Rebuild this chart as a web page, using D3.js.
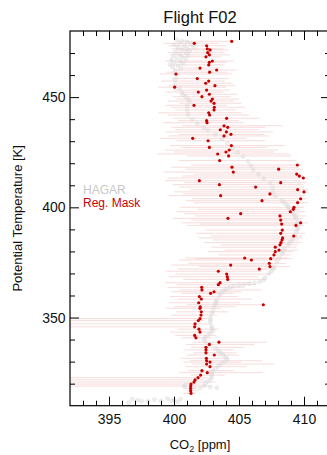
<!DOCTYPE html>
<html>
<head>
<meta charset="utf-8">
<script src="https://cdn.jsdelivr.net/npm/d3@7"></script>
<style>
  body { margin: 0; background: #fff; }
  svg { display: block; font-family: "Liberation Sans", Arial, sans-serif; }
</style>
</head>
<body>
<svg id="chart" width="327" height="455"></svg>
<script>
// Reg. Mask samples: potential temperature [K], CO2 [ppm], and range low/high
const maskTheta = [475.3,474.4,473.3,471.9,471.4,470.2,469.2,468.3,466.4,465.8,464.6,463.2,462.3,461.3,460.5,458.4,457.3,456.3,455.2,454.5,453.2,452.3,451.3,450.2,449.1,448.2,447.2,446.3,445.4,444.2,442.9,441.9,440.4,439.3,438.4,437.0,436.3,435.2,434.2,433.1,432.4,431.3,430.2,428.0,427.2,426.0,425.1,424.2,423.3,421.2,419.2,418.2,417.3,416.0,415.1,414.2,413.3,412.1,411.2,410.3,409.2,408.0,407.0,406.1,405.3,403.9,403.0,402.1,400.0,399.1,398.0,397.1,396.1,395.0,394.2,393.0,392.4,391.8,389.7,388.2,387.0,386.1,385.2,384.0,383.0,381.9,380.6,379.9,378.4,377.0,376.7,376.1,374.6,373.8,373.1,372.0,371.0,369.7,368.5,367.3,365.8,364.9,363.7,362.5,361.7,361.0,359.5,358.4,356.7,355.8,354.9,354.2,352.6,351.1,349.5,348.6,347.1,345.8,344.7,343.4,341.9,340.8,338.8,337.8,336.5,335.3,334.0,333.0,331.5,330.4,329.8,328.9,327.7,325.9,325.0,323.9,322.7,321.7,320.7,319.8,318.9,317.9,316.8,315.6];
const maskCo2 = [404.44,401.56,402.51,402.56,402.77,402.59,402.72,402.46,402.95,402.72,402.67,402.0,403.28,402.74,400.15,401.79,402.67,402.44,403.15,400.05,402.51,401.87,402.72,402.15,402.95,402.85,403.08,401.54,403.10,403.08,402.67,402.74,404.05,402.51,402.54,403.85,404.13,403.56,404.03,404.38,403.85,401.44,402.62,404.41,402.72,404.25,404.0,403.36,404.2,403.51,409.49,404.46,408.05,404.56,409.44,409.64,409.95,401.95,408.21,403.49,406.28,409.51,410.0,407.38,403.59,409.74,406.77,409.51,409.23,409.18,408.95,405.13,408.15,404.15,408.21,409.74,408.28,409.38,408.33,408.21,409.21,408.36,408.31,408.23,408.15,407.79,408.08,407.79,407.69,405.44,407.44,405.95,407.33,404.36,407.38,406.56,403.41,404.05,404.1,404.13,403.54,403.41,402.13,402.15,403.08,402.82,401.95,402.1,401.9,406.87,402.02,402.0,402.1,402.08,402.0,401.87,401.62,401.59,401.92,402.0,401.59,401.69,403.46,402.72,402.46,402.46,402.46,403.1,402.49,402.51,402.77,402.51,402.77,402.15,402.56,402.05,401.85,401.62,401.54,401.31,401.28,401.28,401.28,401.31];
const maskLo = [400.5,399.2,399.6,399.8,400.2,399.5,399.9,400.4,399.3,400.1,399.7,400.6,400.0,399.4,398.9,399.8,399.0,400.3,399.6,398.8,400.0,399.4,400.6,399.9,400.2,399.5,400.4,399.3,399.8,400.1,398.8,399.5,399.9,400.3,399.2,400.6,399.8,400.1,399.4,400.4,399.6,398.9,400.2,399.7,400.5,399.3,400.0,398.7,401.0,400.4,401.3,399.8,400.9,399.2,401.5,400.6,399.5,399.3,400.8,399.9,400.4,401.2,400.0,400.7,399.6,401.4,400.9,401.5,400.5,401.8,400.2,400.8,401.6,399.9,401.3,400.6,402.0,401.0,402.4,401.7,402.8,401.9,403.0,402.3,403.6,402.9,403.9,402.6,403.4,400.9,401.6,400.4,401.1,399.8,401.9,400.3,399.4,400.1,399.6,400.7,399.3,400.2,399.5,400.4,399.8,400.6,399.7,400.3,399.6,401.0,400.0,399.4,400.2,399.8,388.0,385.0,387.0,386.0,400.3,399.7,400.1,400.6,401.4,400.9,401.3,400.8,401.5,401.0,400.5,401.2,400.7,401.4,400.9,401.1,400.4,401.3,387.0,385.0,386.0,388.0,386.0,400.8,400.9,400.7];
const maskHi = [404.5,403.4,404.0,403.8,404.2,403.9,404.3,403.6,404.6,404.0,403.9,403.5,404.8,404.1,404.5,404.2,403.9,404.5,404.7,404.0,404.3,403.8,404.9,404.4,405.0,404.6,405.2,404.1,405.5,404.8,405.2,405.8,406.6,405.0,405.4,408.3,407.0,406.5,407.6,406.9,407.3,405.6,407.0,408.5,407.2,408.0,407.7,408.9,409.0,409.4,409.8,409.6,409.9,409.5,409.8,410.0,410.1,409.7,410.2,409.9,410.0,410.3,410.2,409.8,410.1,410.2,409.9,410.3,410.0,409.7,410.1,409.6,410.2,409.9,409.8,410.3,409.9,410.0,409.7,410.1,409.8,409.9,409.6,409.8,409.5,409.4,409.5,409.2,409.0,408.7,409.1,408.2,408.6,407.6,408.9,407.9,406.8,407.4,406.5,407.0,405.9,406.3,405.4,406.7,405.2,404.6,404.9,406.0,405.1,406.9,404.8,403.6,404.2,403.3,402.6,402.3,402.9,402.1,403.4,403.0,403.2,402.9,407.1,406.2,405.4,404.6,404.8,405.0,404.2,406.8,405.2,407.7,405.6,404.6,406.8,403.9,402.6,402.4,403.2,402.1,402.8,401.8,401.9,401.7];

// HAGAR samples: potential temperature [K], CO2 [ppm]
const hagarTheta = [476.0,475.5,475.0,474.6,474.2,473.8,473.3,472.9,472.5,472.0,471.5,471.1,470.6,470.2,469.7,469.2,468.8,468.3,467.8,467.3,466.8,466.3,465.8,465.2,464.7,464.2,463.6,463.0,462.0,460.0,458.0,456.0,454.0,452.0,451.0,450.0,449.0,448.0,446.0,444.0,442.0,440.0,438.0,436.0,435.0,433.0,431.0,429.0,427.0,425.0,423.0,421.0,419.0,417.0,415.0,413.0,411.0,409.0,407.0,405.0,403.0,402.0,401.0,400.0,399.0,398.0,397.0,396.0,395.0,393.0,392.0,391.0,390.0,389.0,387.0,385.0,384.0,383.0,381.0,380.0,379.0,377.0,375.0,373.0,372.0,371.0,370.0,368.0,367.0,366.2,365.8,365.4,365.0,364.6,364.2,363.6,363.0,362.0,361.0,360.0,358.0,357.0,356.0,355.0,353.0,352.0,350.0,349.0,348.0,346.0,345.0,344.0,343.0,342.0,341.0,340.0,339.0,338.0,336.0,335.0,334.0,333.0,332.0,331.0,330.0,329.0,328.0,327.0,326.0,325.0,324.0,323.0,322.0,321.0,320.0,319.0,318.5,318.2,318.0,318.3,318.6,319.4,313.0,312.5,312.0,312.8,312.2,313.2,312.5,311.8,312.0,313.0,311.5,312.3];
const hagarCo2 = [400.2,400.6,401.0,400.4,401.3,400.0,400.8,401.5,400.3,401.0,400.6,401.2,400.1,400.9,400.4,401.1,399.9,400.6,400.2,400.9,399.8,400.5,400.0,400.7,399.7,400.3,399.9,400.5,400.1,400.2,400.1,400.1,400.4,400.6,400.7,400.9,401.1,401.2,401.0,401.0,401.1,401.4,401.8,402.3,402.6,403.2,403.7,404.1,404.5,404.9,405.3,405.7,405.9,406.1,406.5,406.9,407.4,407.6,407.6,407.8,408.3,408.5,408.7,408.8,408.9,409.1,409.2,409.3,409.4,409.5,409.5,409.5,409.5,409.4,409.3,409.1,408.9,408.8,408.5,408.4,408.3,408.1,407.9,407.7,407.6,407.5,407.3,407.0,406.9,406.6,406.2,405.8,405.4,405.0,404.6,404.3,404.0,403.8,403.6,403.5,403.3,403.2,403.2,403.1,403.0,402.9,402.8,402.8,402.8,402.9,402.9,403.0,402.8,402.6,402.4,402.3,402.4,402.7,403.2,403.4,403.6,403.8,404.0,404.1,403.9,403.6,403.4,403.2,403.0,402.9,402.9,402.9,402.8,402.6,402.4,402.3,402.8,403.3,402.0,401.5,400.8,400.85,396.8,397.2,397.5,398.5,399.0,399.5,400.0,400.3,398.0,400.5,396.5,399.8];

const xMajor = [395, 400, 405, 410];
const yMajor = [350, 400, 450];

const svg = d3.select("#chart");
const margin = {top: 31, left: 70, right: -3, bottom: 49.3};
const W = 327 - margin.left - margin.right;   // 260
const H = 455 - margin.top - margin.bottom;    // ~374.7

const x = d3.scaleLinear().domain([392, 412]).range([0, W]);
const y = d3.scaleLinear().domain([310, 480]).range([H, 0]);

const g = svg.append("g").attr("transform", `translate(${margin.left},${margin.top})`);

g.append("clipPath").attr("id", "plot-clip")
  .append("rect").attr("width", W).attr("height", H);

const plot = g.append("g").attr("clip-path", "url(#plot-clip)");

const mask = maskTheta.map((t, i) => ({t, c: maskCo2[i], lo: maskLo[i], hi: maskHi[i]}));
const hagar = hagarTheta.map((t, i) => ({t, c: hagarCo2[i]}));

// range bars
plot.selectAll("line.bar")
  .data(mask)
  .enter().append("line")
  .attr("class", "bar")
  .attr("x1", d => x(d.lo))
  .attr("x2", d => x(d.hi))
  .attr("y1", d => y(d.t))
  .attr("y2", d => y(d.t))
  .attr("stroke", "#f0baba")
  .attr("stroke-opacity", 0.5)
  .attr("stroke-width", 1);

// HAGAR
plot.selectAll("circle.hagar")
  .data(hagar)
  .enter().append("circle")
  .attr("class", "hagar")
  .attr("cx", d => x(d.c))
  .attr("cy", d => y(d.t))
  .attr("r", 2)
  .attr("fill", "#dcdcdc")
  .attr("fill-opacity", 0.45)
  .attr("stroke", "#cfcfcf")
  .attr("stroke-opacity", 0.55)
  .attr("stroke-width", 0.5);

// Reg. Mask
plot.selectAll("circle.mask")
  .data(mask)
  .enter().append("circle")
  .attr("class", "mask")
  .attr("cx", d => x(d.c))
  .attr("cy", d => y(d.t))
  .attr("r", 1.6)
  .attr("fill", "#c80000");

// axes: ticks point inward
function styleAxis(sel) {
  sel.select(".domain").remove();
  sel.selectAll("line").attr("stroke", "#000").attr("stroke-width", 1);
  sel.selectAll("text").attr("font-size", 14).attr("fill", "#111")
    .attr("font-family", "Liberation Sans, Arial, sans-serif");
}

const xMinor = d3.range(393, 412, 1).filter(v => !xMajor.includes(v));
const yMinor = d3.range(320, 480, 10).filter(v => !yMajor.includes(v));

g.append("g").attr("transform", `translate(0,${H})`)
  .call(d3.axisBottom(x).tickValues(xMajor).tickSize(-9).tickPadding(8).tickFormat(d3.format("d")))
  .call(styleAxis);
g.append("g").attr("transform", `translate(0,${H})`)
  .call(d3.axisBottom(x).tickValues(xMinor).tickSize(-5).tickFormat(""))
  .call(styleAxis);
g.append("g")
  .call(d3.axisTop(x).tickValues(xMajor).tickSize(-9).tickFormat(""))
  .call(styleAxis);
g.append("g")
  .call(d3.axisTop(x).tickValues(xMinor).tickSize(-5).tickFormat(""))
  .call(styleAxis);

g.append("g")
  .call(d3.axisLeft(y).tickValues(yMajor).tickSize(-9).tickPadding(4.5).tickFormat(d3.format("d")))
  .call(styleAxis);
g.append("g")
  .call(d3.axisLeft(y).tickValues(yMinor).tickSize(-5).tickFormat(""))
  .call(styleAxis);
g.append("g").attr("transform", `translate(${W},0)`)
  .call(d3.axisRight(y).tickValues(yMajor).tickSize(-9).tickFormat(""))
  .call(styleAxis);
g.append("g").attr("transform", `translate(${W},0)`)
  .call(d3.axisRight(y).tickValues(yMinor).tickSize(-5).tickFormat(""))
  .call(styleAxis);

// frame
g.append("rect")
  .attr("width", W).attr("height", H)
  .attr("fill", "none").attr("stroke", "#000").attr("stroke-width", 1.2);

// title
svg.append("text")
  .attr("x", margin.left + W / 2).attr("y", 23)
  .attr("text-anchor", "middle").attr("font-size", 16.5).attr("fill", "#111")
  .text("Flight F02");

// x title
const xt = svg.append("text")
  .attr("x", margin.left + W / 2).attr("y", 449)
  .attr("text-anchor", "middle").attr("font-size", 13).attr("fill", "#111");
xt.append("tspan").text("CO");
xt.append("tspan").attr("font-size", 9).attr("dy", 3).text("2");
xt.append("tspan").attr("dy", -3).text(" [ppm]");

// y title
svg.append("text")
  .attr("transform", `translate(22,${margin.top + H / 2}) rotate(-90)`)
  .attr("text-anchor", "middle").attr("font-size", 13).attr("fill", "#111")
  .text("Potential Temperature [K]");

// legend
svg.append("text").attr("x", 83).attr("y", 194)
  .attr("font-size", 12).attr("fill", "#c8c8c8").text("HAGAR");
svg.append("text").attr("x", 83).attr("y", 207)
  .attr("font-size", 12).attr("fill", "#c80000").text("Reg. Mask");
</script>
</body>
</html>
